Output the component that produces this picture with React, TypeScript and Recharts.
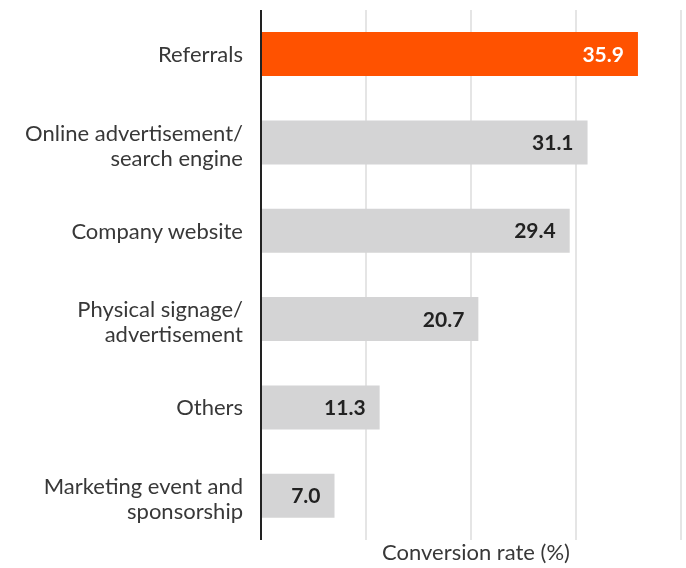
import React from 'react'
import { Bar, BarChart, CartesianGrid, Cell, LabelList, XAxis, YAxis } from 'recharts'

const categories = [
  'Referrals',
  'Online advertisement/\nsearch engine',
  'Company website',
  'Physical signage/\nadvertisement',
  'Others',
  'Marketing event and\nsponsorship',
]
const rates = [35.9, 31.1, 29.4, 20.7, 11.3, 7.0]
const highlighted = ['Referrals']
const xTicks = [0, 10, 20, 30, 40]

const data = categories.map((name, i) => ({ name, rate: rates[i] }))

const FONT = 'Lato, "Open Sans", sans-serif'

function CategoryTick({ x, y, payload }: any) {
  const lines = String(payload.value).split('\n')
  const lineHeight = 25
  // two-line labels sit a little low in the original
  const startY = lines.length > 1 ? -lineHeight / 2 + 3 : 0
  return (
    <text textAnchor='end' fill='#383838' fontFamily={FONT} fontSize={22} fontWeight={400}>
      {lines.map((line, i) => (
        <tspan key={i} x={x - 10} y={y + startY + i * lineHeight} dy='0.35em'>
          {line}
        </tspan>
      ))}
    </text>
  )
}

function ValueLabel(props: any) {
  const { x, y, width, height, value, index } = props
  const isHot = highlighted.includes(categories[index])
  return (
    <text
      x={Number(x) + Number(width) - 14}
      y={Number(y) + Number(height) / 2}
      dy='0.36em'
      textAnchor='end'
      fill={isHot ? '#fff' : '#222'}
      fontFamily={FONT}
      fontSize={21}
      fontWeight={700}
    >
      {Number(value).toFixed(1)}
    </text>
  )
}

export default function App() {
  // fixed so the full-window chart never makes the page scroll
  return (
    <div style={{ position: 'fixed', left: 0, top: 0, width: 686, height: 568 }}>
      <BarChart
        width={686}
        height={568}
        data={data}
        layout='vertical'
        margin={{ top: 10, right: 5, bottom: 0, left: 0 }}
        barCategoryGap='25%'
      >
        <CartesianGrid horizontal={false} stroke='#dcdcdc' strokeWidth={1.5} />
        <XAxis
          type='number'
          dataKey='rate'
          domain={[0, 40]}
          ticks={xTicks}
          interval={0}
          axisLine={false}
          tickLine={false}
          tickFormatter={() => ''}
          height={28}
          label={{
            value: 'Conversion rate (%)',
            position: 'insideBottom',
            offset: 8,
            dx: 5,
            fill: '#383838',
            fontFamily: FONT,
            fontSize: 22,
            fontWeight: 400,
          }}
        />
        <YAxis
          type='category'
          dataKey='name'
          width={261}
          axisLine={{ stroke: '#222', strokeWidth: 2 }}
          tickLine={false}
          tick={<CategoryTick />}
          interval={0}
        />
        <Bar dataKey='rate' isAnimationActive={false}>
          {data.map((d, i) => (
            <Cell key={`cell-${i}`} fill={highlighted.includes(d.name) ? '#ff5200' : '#d4d4d5'} />
          ))}
          <LabelList dataKey='rate' content={<ValueLabel />} />
        </Bar>
      </BarChart>
    </div>
  )
}
